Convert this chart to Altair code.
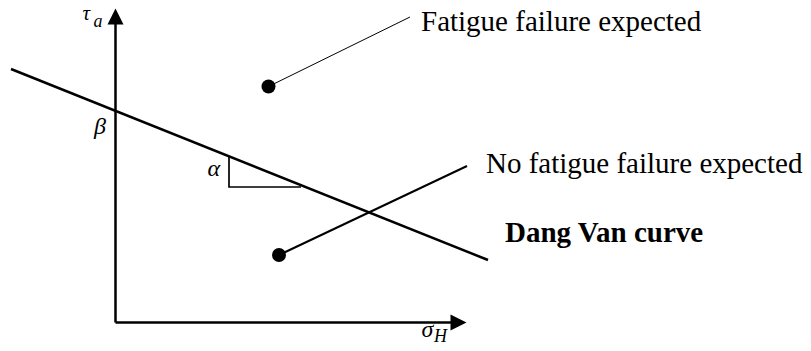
import altair as alt
import pandas as pd

# ---- schematic data (units of sigma_H / tau_a, origin at the axes corner) ----
axis_sigma0 = [0.0, 0.0]
axis_tau0 = [0.0, 0.0]
axis_sigma1 = [0.0, 34.3]
axis_tau1 = [30.6, 0.0]

arrow_sigma = [0.0, 34.3]
arrow_tau = [30.6, 0.0]

dv_sigma = [-10.45, 37.25]
dv_tau = [25.35, 6.25]

slope_step = [0, 1, 2]
slope_sigma = [11.35, 11.35, 18.55]
slope_tau = [16.65, 13.55, 13.55]

state_names = ["failure", "safe"]
state_sigma = [15.3, 16.35]
state_tau = [23.6, 6.75]
leader_sigma_end = [29.45, 35.15]
leader_tau_end = [30.55, 15.65]

label_texts = ["Fatigue failure expected", "No fatigue failure expected"]
label_sigma = [30.55, 37.05]
label_tau = [29.2, 14.95]

curve_label = ["Dang Van curve"]
curve_label_sigma = [38.95]
curve_label_tau = [8.05]

tau_sym = ["τ"]
tau_sym_sigma = [-3.3]
tau_sym_tau = [30.3]

sym_text = ["β", "α", "σ"]
sym_sigma = [-2.15, 9.2, 30.6]
sym_tau = [18.9, 14.65, -1.45]

sub_text = ["a", "H"]
sub_sigma = [-2.2, 31.85]
sub_tau = [29.55, -1.9]

# ---- scales ----
xs = alt.Scale(domain=[-10.75, 68.75], nice=False, zero=False)
ys = alt.Scale(domain=[-2.05, 31.45], nice=False, zero=False)


def X(f="s"):
    return alt.X(f"{f}:Q", scale=xs, axis=None)


def Y(f="t"):
    return alt.Y(f"{f}:Q", scale=ys, axis=None)


axes_df = pd.DataFrame({"s": axis_sigma0, "t": axis_tau0, "s2": axis_sigma1, "t2": axis_tau1})
axes = alt.Chart(axes_df).mark_rule(color="black", strokeWidth=2.5).encode(
    x=X(), y=Y(), x2="s2:Q", y2="t2:Q"
)

arrow_df = pd.DataFrame({"s": arrow_sigma, "t": arrow_tau})
arrow_up = alt.Chart(arrow_df.iloc[[0]]).mark_point(
    shape="M0,-1L1,1L-1,1Z", filled=True, size=256, color="black", opacity=1, strokeWidth=0
).encode(x=X(), y=Y())
arrow_right = alt.Chart(arrow_df.iloc[[1]]).mark_point(
    shape="M1,0L-1,-1L-1,1Z", filled=True, size=256, color="black", opacity=1, strokeWidth=0
).encode(x=X(), y=Y())

dv_df = pd.DataFrame({"s": dv_sigma, "t": dv_tau})
dv = alt.Chart(dv_df).mark_line(color="black", strokeWidth=2.5).encode(x=X(), y=Y())

slope_df = pd.DataFrame({"i": slope_step, "s": slope_sigma, "t": slope_tau})
slope = alt.Chart(slope_df).mark_line(color="black", strokeWidth=1.7, strokeJoin="miter").encode(
    x=X(), y=Y(), order="i:Q"
)

state_df = pd.DataFrame({
    "name": state_names, "s": state_sigma, "t": state_tau,
    "s2": leader_sigma_end, "t2": leader_tau_end,
})
leader_thin = alt.Chart(state_df.iloc[[0]]).mark_rule(color="black", strokeWidth=1).encode(
    x=X(), y=Y(), x2="s2:Q", y2="t2:Q"
)
leader_thick = alt.Chart(state_df.iloc[[1]]).mark_rule(color="black", strokeWidth=2).encode(
    x=X(), y=Y(), x2="s2:Q", y2="t2:Q"
)
dots = alt.Chart(state_df).mark_circle(color="black", size=196, opacity=1).encode(x=X(), y=Y())

label_df = pd.DataFrame({"s": label_sigma, "t": label_tau, "txt": label_texts})
labels = alt.Chart(label_df).mark_text(
    align="left", baseline="alphabetic", font="Liberation Serif", fontSize=29, color="black"
).encode(x=X(), y=Y(), text="txt:N")

curve_df = pd.DataFrame({"s": curve_label_sigma, "t": curve_label_tau, "txt": curve_label})
curve_txt = alt.Chart(curve_df).mark_text(
    align="left", baseline="alphabetic", font="Liberation Serif", fontSize=29,
    fontWeight="bold", color="black"
).encode(x=X(), y=Y(), text="txt:N")

tau_df = pd.DataFrame({"s": tau_sym_sigma, "t": tau_sym_tau, "txt": tau_sym})
tau_txt = alt.Chart(tau_df).mark_text(
    align="left", baseline="alphabetic", font="Liberation Serif", fontSize=21,
    fontStyle="italic", color="black"
).encode(x=X(), y=Y(), text="txt:N")

sym_df = pd.DataFrame({"s": sym_sigma, "t": sym_tau, "txt": sym_text})
syms = alt.Chart(sym_df).mark_text(
    align="left", baseline="alphabetic", font="Liberation Serif", fontSize=24,
    fontStyle="italic", color="black"
).encode(x=X(), y=Y(), text="txt:N")

sub_df = pd.DataFrame({"s": sub_sigma, "t": sub_tau, "txt": sub_text})
subs = alt.Chart(sub_df).mark_text(
    align="left", baseline="alphabetic", font="Liberation Serif", fontSize=18,
    fontStyle="italic", color="black"
).encode(x=X(), y=Y(), text="txt:N")

chart = alt.layer(
    axes, dv, slope, leader_thin, leader_thick, dots, arrow_up, arrow_right,
    labels, curve_txt, tau_txt, syms, subs
).properties(
    width=795, height=335, padding=0, autosize="none", background="white"
).configure_view(stroke=None)

chart.save("out.html", embed_options={"renderer": "svg", "actions": False})
